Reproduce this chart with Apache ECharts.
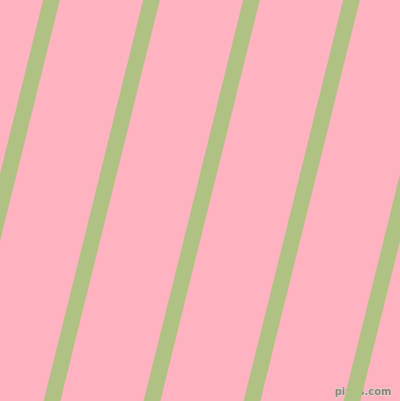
<!DOCTYPE html>
<html>
<head>
<meta charset="utf-8">
<script src="https://cdn.jsdelivr.net/npm/echarts@6/dist/echarts.min.js"></script>
<style>
  html, body { margin: 0; padding: 0; background: #ffb2bf; }
  #chart { width: 400px; height: 401px; }
</style>
</head>
<body>
<div id="chart"></div>
<script>
// stripe centre x at the top edge (y = 0) and at the bottom edge (y = 401)
var stripeTopX = [-48.5, 51.5, 151.5, 251.5, 351.5, 451.5];
var stripeBottomX = [-148, -48, 52, 152, 252, 352];
var stripes = stripeTopX.map(function (t, i) { return [t, stripeBottomX[i]]; });

var myChart = echarts.init(document.getElementById('chart'));
var option = {
    backgroundColor: '#ffb2bf',
    animation: false,
    grid: { left: 0, right: 0, top: 0, bottom: 0 },
    xAxis: { type: 'value', min: 0, max: 400, show: false },
    yAxis: { type: 'value', min: 0, max: 401, inverse: true, show: false },
    series: [{
        type: 'custom',
        clip: true,
        data: stripes,
        renderItem: function (params, api) {
            var half = 8.3;
            var top = api.value(0), bottom = api.value(1);
            var pts = [
                api.coord([top - half, 0]),
                api.coord([top + half, 0]),
                api.coord([bottom + half, 401]),
                api.coord([bottom - half, 401])
            ];
            return {
                type: 'polygon',
                shape: { points: pts },
                style: { fill: '#b0c184' }
            };
        }
    }],
    graphic: [{
        type: 'text',
        right: 8,
        bottom: 3,
        style: {
            text: 'pixlis.com',
            font: 'bold 10px "DejaVu Sans"',
            fill: '#85867a',
            stroke: '#e2e2da',
            lineWidth: 1
        }
    }]
};
myChart.setOption(option);
</script>
</body>
</html>
